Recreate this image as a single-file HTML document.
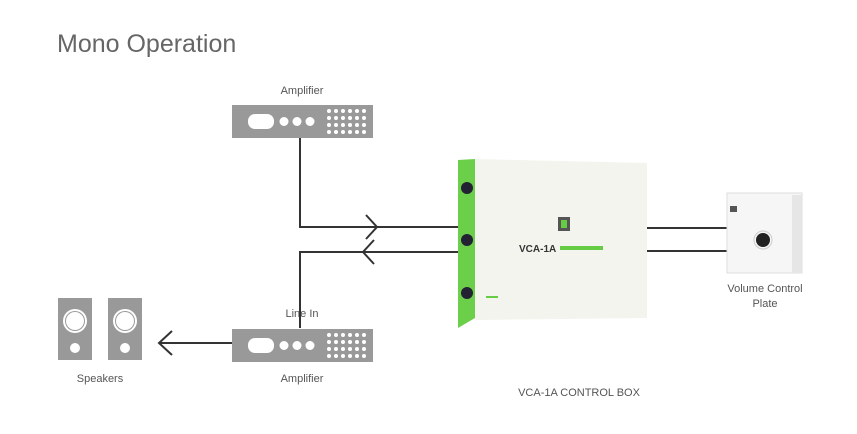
<!DOCTYPE html>
<html><head><style>
body{margin:0;background:#fff;}
svg text{font-family:"Liberation Sans",sans-serif;fill:#555;}
</style></head><body>
<svg width="857" height="429" viewBox="0 0 857 429" xmlns="http://www.w3.org/2000/svg">
<text x="57" y="52" font-size="25" style="fill:#666">Mono Operation</text>
<text x="302" y="94" font-size="11" text-anchor="middle">Amplifier</text>
<text x="302" y="317" font-size="11" text-anchor="middle">Line In</text>
<text x="302" y="382" font-size="11" text-anchor="middle">Amplifier</text>
<text x="100" y="382" font-size="11" text-anchor="middle">Speakers</text>
<text x="579" y="396" font-size="11" text-anchor="middle">VCA-1A CONTROL BOX</text>
<text x="765" y="292" font-size="11" text-anchor="middle">Volume Control</text>
<text x="765" y="307" font-size="11" text-anchor="middle">Plate</text>

<g stroke="#333" stroke-width="2" fill="none">
<polyline points="300,138 300,227 458,227"/>
<polyline points="458,252 300,252 300,328"/>
<polyline points="366,215 377,227 366,239"/>
<polyline points="374,240 363,252 374,264"/>
<line x1="232" y1="343" x2="159" y2="343"/>
<polyline points="172,331 159,343 172,355"/>
<line x1="647" y1="228" x2="727" y2="228"/>
<line x1="647" y1="251" x2="727" y2="251"/>
</g>

<g id="amp">
<rect x="232" y="105" width="141" height="33" fill="#999"/>
<rect x="248" y="114" width="26" height="15" rx="7" fill="#fff"/>
<circle cx="284" cy="121.5" r="4.5" fill="#fff"/>
<circle cx="297" cy="121.5" r="4.5" fill="#fff"/>
<circle cx="310" cy="121.5" r="4.5" fill="#fff"/>
<g fill="#fff">
<circle cx="329" cy="111" r="2"/><circle cx="336" cy="111" r="2"/><circle cx="343" cy="111" r="2"/><circle cx="350" cy="111" r="2"/><circle cx="357" cy="111" r="2"/><circle cx="364" cy="111" r="2"/>
<circle cx="329" cy="118" r="2"/><circle cx="336" cy="118" r="2"/><circle cx="343" cy="118" r="2"/><circle cx="350" cy="118" r="2"/><circle cx="357" cy="118" r="2"/><circle cx="364" cy="118" r="2"/>
<circle cx="329" cy="125" r="2"/><circle cx="336" cy="125" r="2"/><circle cx="343" cy="125" r="2"/><circle cx="350" cy="125" r="2"/><circle cx="357" cy="125" r="2"/><circle cx="364" cy="125" r="2"/>
<circle cx="329" cy="132" r="2"/><circle cx="336" cy="132" r="2"/><circle cx="343" cy="132" r="2"/><circle cx="350" cy="132" r="2"/><circle cx="357" cy="132" r="2"/><circle cx="364" cy="132" r="2"/>
</g>
</g>
<use href="#amp" transform="translate(0,224)"/>

<g id="spk">
<rect x="58" y="298" width="34" height="62" fill="#999"/>
<circle cx="75" cy="321" r="12" fill="#fff"/>
<circle cx="75" cy="321" r="10" fill="#999"/>
<circle cx="75" cy="321" r="9" fill="#fff"/>
<circle cx="75" cy="348" r="5" fill="#fff"/>
</g>
<use href="#spk" transform="translate(50,0)"/>

<!-- control box -->
<polygon points="458,160 475,159 475,318 458,328" fill="#6ccf4a"/>
<polygon points="475,159 647,163 647,318 475,320" fill="#f4f4ee"/>
<circle cx="467" cy="188" r="6" fill="#223"/>
<circle cx="467" cy="240" r="6" fill="#223"/>
<circle cx="467" cy="293" r="6" fill="#223"/>
<rect x="558" y="217" width="12" height="14" fill="#555"/>
<rect x="561" y="220" width="6" height="8" fill="#6c4"/>
<text x="519" y="252" font-size="10" font-weight="bold" style="fill:#333">VCA-1A</text>
<rect x="560" y="246" width="43" height="4" fill="#6c4"/>
<rect x="486" y="296" width="12" height="2" fill="#6c4"/>

<!-- plate -->
<rect x="727" y="193" width="75" height="80" fill="#f6f6f6" stroke="#ddd"/>
<rect x="792" y="195" width="10" height="78" fill="#e6e6e6"/>
<circle cx="763" cy="240" r="9" fill="none" stroke="#ccc"/>
<circle cx="763" cy="240" r="7" fill="#222"/>
<rect x="730" y="206" width="7" height="6" fill="#555"/>
</svg>
</body></html>
